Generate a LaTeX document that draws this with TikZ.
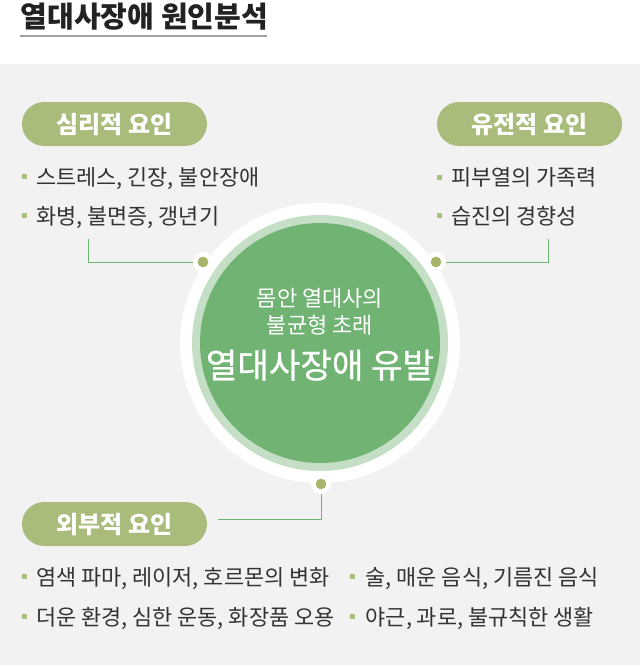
\documentclass[tikz,border=0pt]{standalone}
\usepackage{fontspec}
\setmainfont{Noto Sans CJK KR}
\newfontfamily\cjkmedium[FakeBold=0.8]{Noto Sans CJK KR}
\definecolor{bggray}{HTML}{F2F2F2}
\definecolor{pillgreen}{HTML}{A9BC7B}
\definecolor{bulletgreen}{HTML}{A9BF7E}
\definecolor{circdark}{HTML}{70B373}
\definecolor{circring}{HTML}{C5DFC6}
\definecolor{dotolive}{HTML}{A6B46C}
\definecolor{linegreen}{HTML}{6DB46F}
\definecolor{txtdark}{HTML}{333333}
\definecolor{titledark}{HTML}{222222}
\definecolor{ulgray}{HTML}{A0A0A0}
\tikzset{
  pill/.style={fill=pillgreen, rounded corners=16.5pt, minimum width=138.75pt, minimum height=33pt, inner sep=0pt,
    text=white, font=\fontsize{18pt}{20pt}\selectfont\bfseries, text height=13.7pt, text depth=0pt},
  bullettext/.style={anchor=west, inner sep=0pt, text=txtdark, font=\fontsize{16.4pt}{18pt}\selectfont, text height=12.5pt, text depth=0pt},
  bulletsq/.style={fill=bulletgreen, minimum size=3.75pt, inner sep=0pt, draw=none},
  circtext/.style={inner sep=0pt, text=white, text depth=0pt},
  halo/.style={circle, fill=white, minimum size=15pt, inner sep=0pt},
  dotn/.style={circle, fill=dotolive, minimum size=8pt, inner sep=0pt},
  conn/.style={draw=linegreen, line width=0.75pt}
}
\begin{document}
\begin{tikzpicture}[x=0.75pt,y=-0.75pt]
\useasboundingbox (0,0) rectangle (640,667);
\fill[white] (0,0) rectangle (640,667);
\fill[bggray] (0,64) rectangle (640,665);
% title
\node[anchor=west, inner sep=0pt, text=titledark, font=\fontsize{21.8pt}{24pt}\selectfont\bfseries, text height=16.6pt, text depth=0pt] (title) at (20.5,16.5) {열대사장애 원인분석};
\draw[ulgray, line width=1.6pt] (20,36) -- (267,36);
% circle
\node[circle, fill=white, minimum size=210pt, inner sep=0pt] (outer) at (320,343) {};
\node[circle, fill=circring, minimum size=192pt, inner sep=0pt] (ring) at (320,343) {};
\node[circle, fill=circdark, minimum size=180pt, inner sep=0pt] (core) at (320,343) {};
\node[circtext, font=\fontsize{16.5pt}{18pt}\selectfont, text height=12.5pt] (c1) at (320,298) {몸안 열대사의};
\node[circtext, font=\fontsize{16.5pt}{18pt}\selectfont, text height=12.5pt] (c2) at (320,325) {불균형 초래};
\node[circtext, font=\fontsize{25.7pt}{28pt}\cjkmedium, text height=19.5pt] (c3) at (320,365) {열대사장애 유발};
% pills
\node[pill] (p1) at (114.5,124) {심리적 요인};
\node[pill] (p2) at (529.5,124) {유전적 요인};
\node[pill] (p3) at (114.5,524) {외부적 요인};
% bullets left top
\node[bulletsq] (b1) at (24.5,176) {};
\node[bullettext] (t1) at (36,177) {스트레스, 긴장, 불안장애};
\node[bulletsq] (b2) at (24.5,215) {};
\node[bullettext] (t2) at (36,216) {화병, 불면증, 갱년기};
% bullets right top
\node[bulletsq] (b3) at (439.5,177) {};
\node[bullettext] (t3) at (451,177) {피부열의 가족력};
\node[bulletsq] (b4) at (439.5,215) {};
\node[bullettext] (t4) at (451,216) {습진의 경향성};
% bullets bottom
\node[bulletsq] (b5) at (24.5,576) {};
\node[bullettext] (t5) at (36,577) {염색 파마, 레이저, 호르몬의 변화};
\node[bulletsq] (b6) at (24.5,616) {};
\node[bullettext] (t6) at (36,617) {더운 환경, 심한 운동, 화장품 오용};
\node[bulletsq] (b7) at (352.5,576) {};
\node[bullettext] (t7) at (365.5,577) {술, 매운 음식, 기름진 음식};
\node[bulletsq] (b8) at (352.5,616) {};
\node[bullettext] (t8) at (365.5,617) {야근, 과로, 불규칙한 생활};
% connector endpoints
\coordinate (eL) at (88,239);
\coordinate (eR) at (548,239);
\coordinate (eB) at (218,519);
\coordinate (dL) at (203,262);
\coordinate (dR) at (436,262);
\coordinate (dB) at (321,484);
\draw[conn] (dL) -| (eL);
\draw[conn] (dR) -| (eR);
\draw[conn] (dB) |- (eB);
% dots
\node[halo] (hL) at (dL) {};
\node[halo] (hR) at (dR) {};
\node[halo] (hB) at (dB) {};
\node[dotn] (nL) at (dL) {};
\node[dotn] (nR) at (dR) {};
\node[dotn] (nB) at (dB) {};
\end{tikzpicture}
\end{document}
